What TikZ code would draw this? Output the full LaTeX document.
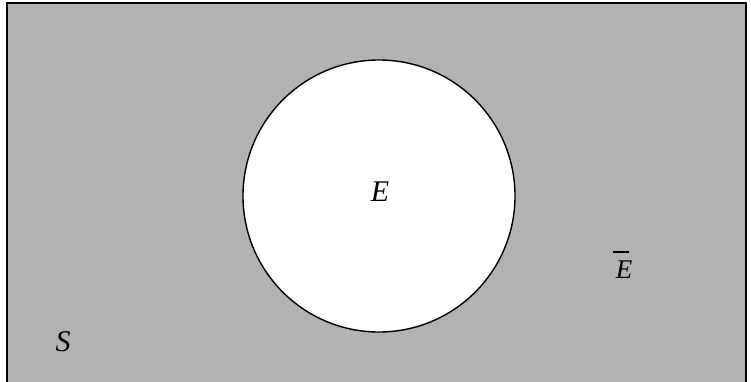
\documentclass[tikz,border=0pt]{standalone}
\usepackage{fontspec}
\setmainfont{Liberation Serif}
\usepackage{tikz}

\begin{document}
\begin{tikzpicture}[x=1pt,y=-1pt,
    lbl/.style={inner sep=0pt,font=\fontsize{30}{30}\selectfont\itshape},
    lblsm/.style={lbl,font=\fontsize{27}{27}\selectfont\itshape}]
% Marco
\useasboundingbox (0,0) rectangle (751,381);

% Espacio muestral
\draw[fill=black!30,line width=1.2pt] (7,3) rectangle (746,390);

% Suceso E
\draw[fill=white,line width=1.4pt] (379,196) circle (136);

% Etiquetas
\node[lbl] (labE) at (380,192) {E};
\node[lblsm] (labEc) at (624,270) {E};
\draw[line width=1.4pt] ([xshift=-11pt,yshift=9pt]labEc.north)
  -- ([xshift=5pt,yshift=9pt]labEc.north);
\node[lbl] (labS) at (63,342) {S};
\end{tikzpicture}
\end{document}
